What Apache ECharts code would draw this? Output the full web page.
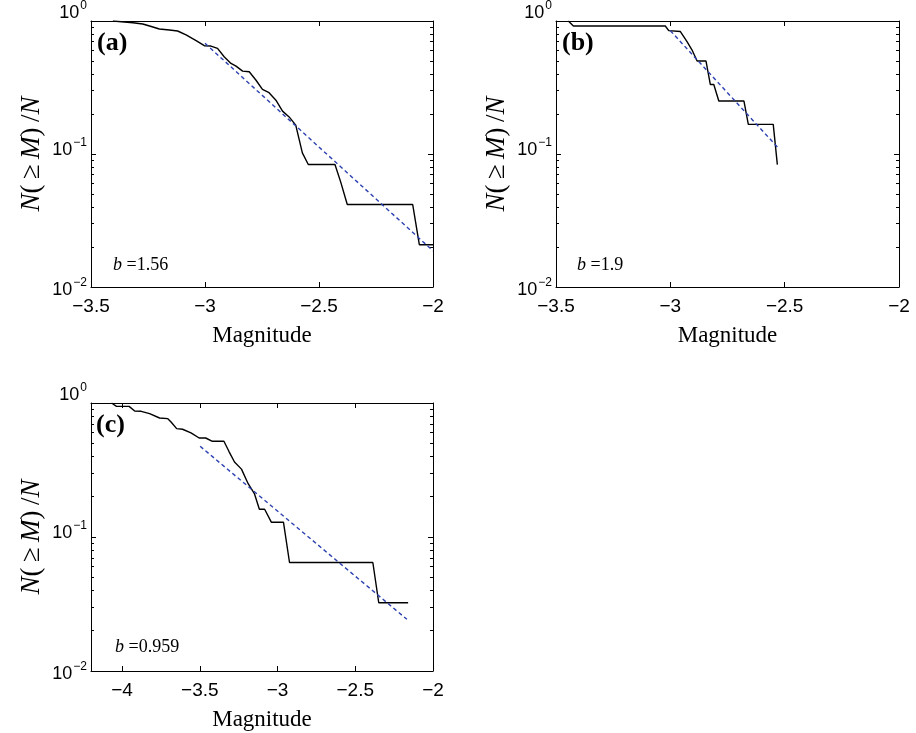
<!DOCTYPE html>
<html><head><meta charset="utf-8">
<script src="https://cdn.jsdelivr.net/npm/echarts@6/dist/echarts.min.js"></script>
<style>html,body{margin:0;padding:0;background:#fff}#c{width:916px;height:733px}</style>
</head><body><div id="c"></div>
<script>
// ---- data ----
const aMag  = [-3.404,-3.316,-3.273,-3.243,-3.2,-3.156,-3.12,-3.083,-3.039,-3.003,-2.974,-2.945,-2.916,-2.886,-2.864,-2.835,-2.806,-2.777,-2.748,-2.719,-2.689,-2.66,-2.631,-2.602,-2.573,-2.547,-2.43,-2.405,-2.376,-2.089,-2.06,-2.0];
const aFrac = [1.0,0.971,0.949,0.917,0.871,0.855,0.841,0.785,0.711,0.652,0.648,0.623,0.539,0.48,0.458,0.42,0.415,0.36,0.306,0.289,0.254,0.21,0.19,0.165,0.102,0.0833,0.0833,0.0617,0.0417,0.0417,0.0208,0.0208];
const aFitMag = [-3.0, -2.0];
const aFitFrac = [0.68, 0.0187];

const bMag  = [-3.446,-3.424,-3.022,-3.007,-2.956,-2.927,-2.905,-2.883,-2.844,-2.825,-2.81,-2.788,-2.678,-2.659,-2.55,-2.532];
const bFrac = [1.0,0.917,0.917,0.846,0.833,0.699,0.605,0.5,0.5,0.333,0.333,0.25,0.25,0.167,0.167,0.0833];
const bFitMag = [-3.0, -2.532];
const bFitFrac = [0.846, 0.113];

const cMag  = [-4.068,-4.036,-3.955,-3.919,-3.877,-3.823,-3.759,-3.706,-3.685,-3.649,-3.611,-3.557,-3.504,-3.462,-3.419,-3.345,-3.313,-3.277,-3.232,-3.189,-3.149,-3.117,-3.083,-3.04,-2.962,-2.923,-2.387,-2.349,-2.16];
const cFrac = [1.0,0.944,0.944,0.871,0.867,0.833,0.773,0.764,0.722,0.644,0.637,0.598,0.548,0.548,0.518,0.518,0.436,0.363,0.321,0.25,0.211,0.161,0.161,0.129,0.129,0.0645,0.0645,0.0323,0.0323];
const cFitMag = [-3.498, -2.168];
const cFitFrac = [0.475, 0.0243];

const panelLabels = ['(a)', '(b)', '(c)'];
const bValues = ['1.56', '1.9', '0.959'];
const xTicksAB = [-3.5, -3, -2.5, -2];
const xTicksC = [-4, -3.5, -3, -2.5, -2];
const yMajor = [0.01, 0.1, 1];
const yMinor = [0.02,0.03,0.04,0.05,0.06,0.07,0.08,0.09,0.2,0.3,0.4,0.5,0.6,0.7,0.8,0.9];
const xTitle = 'Magnitude';

// ---- build ----
const zip = (xs, ys) => xs.map((x, i) => [x, ys[i]]);
const SANS = 'Liberation Sans';
const SERIF = 'Liberation Serif';
const minus = v => String(v).replace('-', '\u2212');

const grids = [
  {left: 91, top: 21, width: 342, height: 266},
  {left: 556, top: 21, width: 343, height: 266},
  {left: 91, top: 403, width: 342, height: 268}
];
const xRanges = [[-3.5, -2, xTicksAB], [-3.5, -2, xTicksAB], [-4.2, -2, xTicksC]];

// vertical offsets of the "10" glyphs relative to the tick (layout only)
const labOff = {'0': -8, '-1': -4, '-2': 3};
const rich = {};
Object.keys(labOff).forEach((k, i) => {
  const d = labOff[k], e = d - 7;
  rich['b' + i] = {fontFamily: SANS, fontSize: 18, color: '#000',
    padding: d < 0 ? [0, 0, -2 * d, 0] : [2 * d, 0, 0, 0]};
  rich['s' + i] = {fontFamily: SANS, fontSize: 12, color: '#000',
    padding: e < 0 ? [0, 0, -2 * e, 1] : [2 * e, 0, 0, 1]};
});
const expKeys = Object.keys(labOff);

const xAxis = [], yAxis = [], series = [];
grids.forEach((g, gi) => {
  const [mn, mx, ticks] = xRanges[gi];
  ['bottom', 'top'].forEach(pos => {
    xAxis.push({
      type: 'value', gridIndex: gi, position: pos, min: mn, max: mx,
      axisLine: {show: true, onZero: false, lineStyle: {color: '#000', width: 1}},
      axisTick: {show: true, inside: true, length: 5, customValues: ticks, lineStyle: {color: '#000'}},
      axisLabel: {show: pos === 'bottom', customValues: ticks, margin: 10, fontFamily: SANS, fontSize: 19, color: '#000', formatter: minus},
      splitLine: {show: false},
      name: pos === 'bottom' ? xTitle : '',
      nameLocation: 'middle', nameGap: 37,
      nameTextStyle: {fontFamily: SERIF, fontSize: 23, color: '#000'}
    });
  });
  ['left', 'right'].forEach(pos => {
    yAxis.push({
      type: 'log', logBase: 10, gridIndex: gi, position: pos, min: 0.01, max: 1,
      axisLine: {show: true, onZero: false, lineStyle: {color: '#000', width: 1}},
      axisTick: {show: true, inside: true, length: 5, customValues: yMajor, lineStyle: {color: '#000'}},
      axisLabel: {
        show: pos === 'left', customValues: yMajor, margin: 4,
        formatter: v => {
          const ex = String(Math.round(Math.log10(v)));
          const i = expKeys.indexOf(ex);
          return '{b' + i + '|10}{s' + i + '|' + minus(ex) + '}';
        },
        rich: rich
      },
      splitLine: {show: false},
      name: pos === 'left' ? '{i|N}{r|(\u2009\u2265\u2009}{i|M}{r|)\u2009/}{i|N}' : '',
      nameLocation: 'middle', nameGap: 46, nameRotate: 90,
      nameTextStyle: {
        rich: {
          i: {fontFamily: SERIF, fontStyle: 'italic', fontSize: 27, color: '#000'},
          r: {fontFamily: SERIF, fontSize: 27, color: '#000'}
        }
      }
    });
    yAxis.push({
      type: 'log', logBase: 10, gridIndex: gi, position: pos, min: 0.01, max: 1,
      axisLine: {show: false},
      axisTick: {show: true, inside: true, length: 3, customValues: yMinor, lineStyle: {color: '#000'}},
      axisLabel: {show: false},
      splitLine: {show: false}
    });
  });
});

const dataSets = [
  [zip(aMag, aFrac), zip(aFitMag, aFitFrac)],
  [zip(bMag, bFrac), zip(bFitMag, bFitFrac)],
  [zip(cMag, cFrac), zip(cFitMag, cFitFrac)]
];
dataSets.forEach((ds, gi) => {
  series.push({
    type: 'line', xAxisIndex: gi * 2, yAxisIndex: gi * 4, data: ds[0],
    showSymbol: false, symbol: 'none', animation: false, silent: true,
    lineStyle: {color: '#000', width: 1.4}, z: 3
  });
  series.push({
    type: 'line', xAxisIndex: gi * 2, yAxisIndex: gi * 4, data: ds[1],
    showSymbol: false, symbol: 'none', animation: false, silent: true,
    lineStyle: {color: '#2c41b0', width: 1.4, type: [4, 3]}, z: 4
  });
});

const labelPos = [[97, 30], [562, 30], [96, 412]];
const bPos = [[113, 256], [577, 256], [115, 638]];
const title = [];
panelLabels.forEach((t, i) => {
  title.push({text: t, left: labelPos[i][0], top: labelPos[i][1], padding: 0,
    textStyle: {fontFamily: SERIF, fontWeight: 'bold', fontSize: 26, color: '#000'}});
  title.push({text: '{i|b} ={n|' + bValues[i] + '}', left: bPos[i][0], top: bPos[i][1], padding: 0,
    textStyle: {rich: {
      i: {fontFamily: SERIF, fontStyle: 'italic', fontWeight: 'normal', fontSize: 18, color: '#000'},
      n: {fontFamily: SERIF, fontWeight: 'normal', fontSize: 18, color: '#000'}
    }, fontFamily: SERIF, fontWeight: 'normal', fontSize: 18, color: '#000'}});
});

const chart = echarts.init(document.getElementById('c'), null, {renderer: 'canvas'});
chart.setOption({
  animation: false,
  backgroundColor: '#fff',
  title: title,
  grid: grids,
  xAxis: xAxis,
  yAxis: yAxis,
  series: series
});
</script></body></html>
